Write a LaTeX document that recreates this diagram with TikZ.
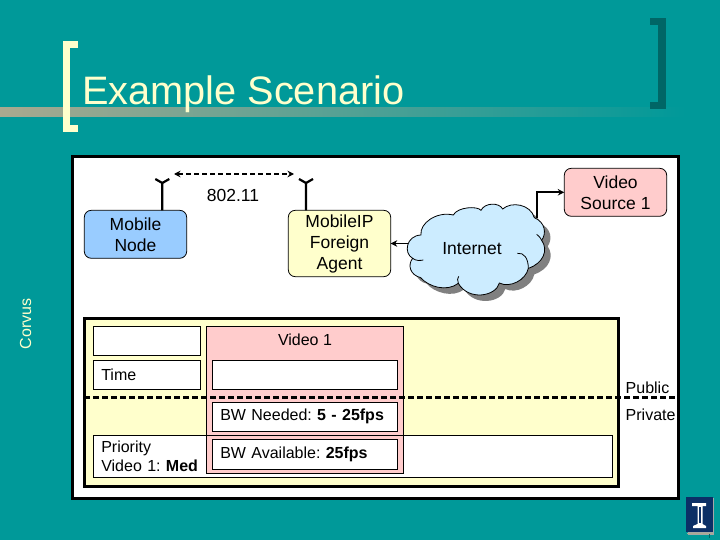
\documentclass[tikz,border=0pt]{standalone}
\usepackage{fontspec}
\setmainfont{Liberation Sans}
\usetikzlibrary{arrows.meta,positioning}
\definecolor{slideteal}{HTML}{009999}
\definecolor{slidedark}{HTML}{006666}
\definecolor{cream}{HTML}{FFFFCC}
\definecolor{rosy}{HTML}{FFCCCC}
\definecolor{skyblue}{HTML}{99CCFF}
\definecolor{cloudblue}{HTML}{CCECFF}
\definecolor{ruletan}{HTML}{A9A98F}
\definecolor{logonavy}{HTML}{0B2F66}
\newcommand{\cloudpath}{(63,120) .. controls (58,85) and (110,48) .. (160,60)
  .. controls (172,36) and (232,32) .. (243,46)
  .. controls (255,22) and (298,22) .. (308,42)
  .. controls (335,18) and (392,28) .. (403,68)
  .. controls (436,82) and (440,115) .. (425,136)
  .. controls (446,165) and (430,205) .. (385,220)
  .. controls (378,255) and (330,280) .. (298,264)
  .. controls (288,305) and (205,318) .. (175,265)
  .. controls (140,292) and (85,275) .. (62,248)
  .. controls (30,240) and (22,210) .. (38,190)
  .. controls (10,175) and (18,122) .. (63,120) -- cycle}
\begin{document}
\begin{tikzpicture}[
    x=1pt, y=-1pt,
    box/.style={rectangle, rounded corners=7pt, draw=black, line width=.8pt, minimum width=102.4pt, inner sep=0pt, outer sep=0pt, align=center, font=\fontsize{17.5}{21}\selectfont},
    cell/.style={rectangle, draw=black, fill=white, line width=.8pt, inner xsep=8pt, inner ysep=0pt, outer sep=0pt, align=left, font=\fontsize{16}{19}\selectfont\frenchspacing},
    lbl/.style={font=\fontsize{16}{19}\selectfont, inner sep=0pt},
    arrow/.style={-{Stealth[length=6.5pt,width=6.5pt]}, line width=1.6pt},
    link/.style={{Stealth[length=6.5pt,width=6.5pt]}-{Stealth[length=6.5pt,width=6.5pt]}, line width=1.6pt, dash pattern=on 5pt off 3pt},
    antenna/.style={line width=2.2pt},
    panel/.style={draw=black, line width=3pt}
]
\useasboundingbox (0,0) rectangle (720,540);
\fill[slideteal] (0,0) rectangle (720,540);

% Title
\shade[left color=ruletan, right color=slideteal] (0,108) rectangle (685,117);
\draw[cream, line width=7pt] (78,44.5) -- (66.5,44.5) -- (66.5,128.5) -- (78,128.5);
\draw[slidedark, line width=7.5pt] (650,21.5) -- (662,21.5) -- (662,105.5) -- (650,105.5);
\node[anchor=base west, inner sep=0pt, text=cream, font=\fontsize{39.7}{44}\selectfont] (title) at (82,105) {Example Scenario};
\node[lbl, text=cream, rotate=90] (corvus) at (25.5,324) {Corvus};

% Main panels
\draw[panel, fill=white] (72.5,156.5) rectangle (678.3,498);
\draw[panel, fill=cream] (84.5,318) rectangle (618.5,486);

% Upper row
\node[box, fill=skyblue, minimum height=48pt] (mobile) at (135.5,234.3) {Mobile\\Node};
\node[box, fill=cream, minimum height=66.4pt, right=101.6pt of mobile.north east, anchor=north west] (agent) {MobileIP\\Foreign\\Agent};
\node[box, fill=rosy, minimum height=48pt] (source) at (615.5,192.3) {Video\\Source 1};
\node[lbl, font=\fontsize{17.5}{21}\selectfont] (wifi) at (233,195) {802.11};

% Antennas and wireless link
\coordinate (mobiletip) at (162.3,183);
\coordinate (agenttip) at (306,183);
\coordinate (linkleft) at (174,174);
\coordinate (linkright) at (294,174);
\draw[antenna] (mobile.north -| mobiletip) -- (mobiletip) -- ++(-7,-4);
\draw[antenna] (mobiletip) -- ++(7,-4);
\draw[antenna] (agent.north -| agenttip) -- (agenttip) -- ++(-7,-4);
\draw[antenna] (agenttip) -- ++(7,-4);
\draw[link] (linkleft) -- (linkright);

% Internet cloud
\begin{scope}[shift={(406,201)}, x=.3333pt, y=-.3333pt]
\fill[gray] \cloudpath;
\end{scope}
\begin{scope}[shift={(400,195)}, x=.3333pt, y=-.3333pt]
\draw[fill=cloudblue, line width=.8pt] \cloudpath;
\draw[line width=.8pt] (352,175) .. controls (372,172) and (385,190) .. (385,220);
\draw[line width=.8pt] (38,190) .. controls (48,198) and (60,197) .. (70,195);
\draw[line width=.8pt] (175,265) .. controls (172,255) and (172,250) .. (176,244);
\draw[line width=.8pt] (425,136) .. controls (420,126) and (415,122) .. (410,118);
\end{scope}
\node[lbl, font=\fontsize{17.5}{21}\selectfont, minimum width=128pt] (internet) at (472,249) {Internet};
\coordinate (cloudtop) at (536.7,218);
\draw[arrow] (internet.west |- agent) -- (agent);
\draw[arrow] (cloudtop) |- (source);

% Lower panel
\node[cell, minimum width=519.4pt, text width=503.4pt, minimum height=42.7pt, anchor=north west] (priority) at (93.3,435) {Priority\\Video 1: \textbf{Med}};
\node[rectangle, draw=black, fill=rosy, line width=.8pt, minimum width=197pt, minimum height=146.6pt, inner sep=0pt, outer sep=0pt, anchor=north west] (video) at (206.7,326.7) {};
\draw[line width=.8pt] (video.west |- priority.north) -- (video.east |- priority.north);
\node[lbl] (videotitle) at (305,340) {Video 1};
\node[cell, minimum width=107.4pt, text width=91.4pt, minimum height=29pt, anchor=north west] (blank) at (93.3,326.7) {};
\node[cell, minimum width=107.4pt, text width=91.4pt, minimum height=29.4pt, anchor=north west] (time) at (93.3,360.3) {Time};
\node[cell, minimum width=185.4pt, text width=169.4pt, minimum height=29.4pt, anchor=north west] (clock) at (212.3,360.3) {};
\node[cell, minimum width=185.4pt, text width=169.4pt, minimum height=29pt, anchor=north west] (needed) at (212.3,402.3) {BW Needed: \textbf{5 - 25fps}};
\node[cell, minimum width=185.4pt, text width=169.4pt, minimum height=29.6pt, anchor=north west] (available) at (212.3,439.7) {BW Available: \textbf{25fps}};

% Public and private
\coordinate (borderleft) at (84,397.3);
\coordinate (borderright) at (677,397.3);
\draw[line width=3pt, dash pattern=on 6pt off 3pt] (borderleft) -- (borderright);
\node[lbl, anchor=base west] (public) at (625.5,393) {Public};
\node[lbl, anchor=base west] (private) at (625.5,420) {Private};

% Logo
\fill[gray!70] (688,498) rectangle (714,535);
\fill[logonavy] (686,497) rectangle (712.5,532);
\draw[ruletan, line width=1pt] (687,533) -- (713,533);
\draw[slidedark, line width=1pt] (709,534) -- (709,538);
\fill[white] (692,503) -- (706,503) -- (706,506) -- (702.5,506) -- (702.5,524) -- (706,526) -- (706,528) -- (693,528) -- (693,526) -- (697.5,524) -- (697.5,506) -- (692,506) -- cycle;
\fill[logonavy] (699.2,507) rectangle (701,523);
\end{tikzpicture}
\end{document}
